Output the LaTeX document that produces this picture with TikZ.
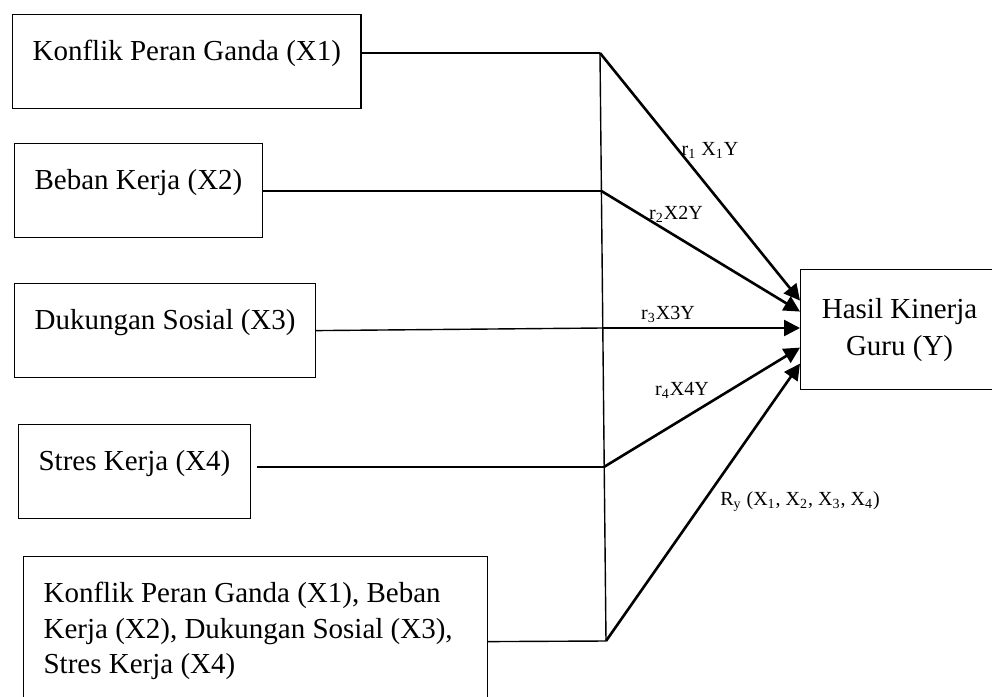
\documentclass[tikz,border=0pt]{standalone}
\usepackage{fontspec}
\setmainfont{Liberation Serif}
\usetikzlibrary{arrows.meta, positioning, calc}

\begin{document}
\begin{tikzpicture}[
    x=0.5pt, y=-0.5pt,
    block/.style={draw, line width=0.6pt, rectangle, anchor=north west, inner xsep=10pt, inner ysep=0pt,
                  text height=23pt, text depth=24pt, font=\fontsize{14.5}{17.75}\selectfont},
    target/.style={draw, line width=0.6pt, rectangle, anchor=north west, minimum width=99pt, minimum height=60pt,
                  align=center, font=\fontsize{14.5}{18.5}\selectfont},
    feed/.style={line width=0.7pt},
    effect/.style={-{Triangle[length=8pt,width=8pt]}, line width=1.3pt},
    coef/.style={font=\fontsize{10}{12}\selectfont, inner sep=0pt}
]
\clip (0,0) rectangle (992,697);

% --- 1. VARIABLES (Left) ---
\node[block] (b1) at (12,14) {Konflik Peran Ganda (X1)};
\node[block] (b2) at (14,143) {Beban Kerja (X2)};
\node[block] (b3) at (14,283) {Dukungan Sosial (X3)};
\node[block] (b4) at (18,424) {Stres Kerja (X4)};
\node[block, text width=212pt, align=flush left, text depth=62pt] (b5) at (23,556)
    {Konflik Peran Ganda (X1), Beban\\Kerja (X2), Dukungan Sosial (X3),\\Stres Kerja (X4)};

% --- 2. DEPENDENT (Right) ---
\node[target] (hasil) at (800,269) {Hasil Kinerja\\Guru (Y)};

% Junctions on the collecting line
\coordinate (j1) at (600,53);
\coordinate (j2) at (601.4,191);
\coordinate (j3) at (602.2,328);
\coordinate (j4) at (603.9,467);
\coordinate (j5) at (606,641);

% --- 3. FEED LINES ---
\draw[feed] (b1.east |- j1) -- (j1);
\draw[feed] (b2.east |- j2) -- (j2);
\draw[feed] (b3.east) -- (j3);
\draw[feed] ([xshift=3pt]b4.east |- j4) -- (j4);
\draw[feed] (b5.east) -- (j5);
\draw[feed] (j1) -- (j5);

% --- 4. PATHS TO Y ---
\draw[effect] (j1) -- ([yshift=14.5pt]hasil.west);
\draw[effect] (j2) -- ([yshift=9pt]hasil.west);
\draw[effect] (j3) -- (j3 -| hasil.west);
\draw[effect] (j4) -- ([yshift=-9pt]hasil.west);
\draw[effect] (j5) -- ([yshift=-17pt]hasil.west);

% Manual labels for coefficients
\node[coef] (c1) at (710,150) {r\textsubscript{1} X\textsubscript{1}Y};
\node[coef] (c2) at (676,214) {r\textsubscript{2}X2Y};
\node[coef] (c3) at (668,314) {r\textsubscript{3}X3Y};
\node[coef] (c4) at (682,390) {r\textsubscript{4}X4Y};
\node[coef] (c5) at (800,502) {R\textsubscript{y} (X\textsubscript{1}, X\textsubscript{2}, X\textsubscript{3}, X\textsubscript{4})};

\end{tikzpicture}
\end{document}
